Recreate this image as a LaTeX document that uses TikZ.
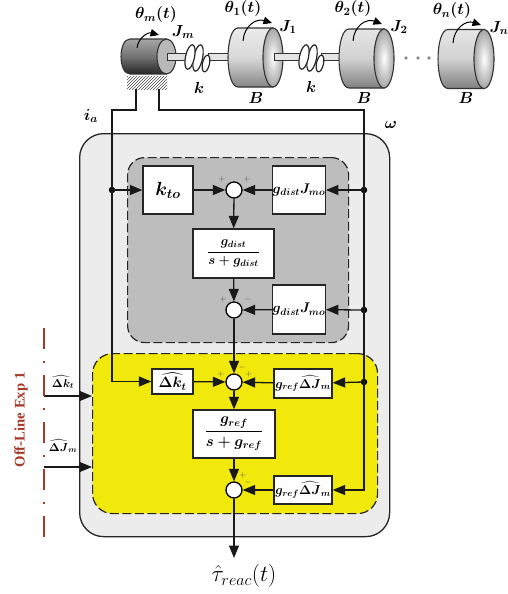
\documentclass[tikz,border=0pt]{standalone}
\usepackage{fix-cm}
\usepackage{amsmath}
\usepackage{fontspec}
\newfontfamily\serifb{Liberation Serif}
\usetikzlibrary{arrows.meta,patterns,calc}
\definecolor{outerc}{HTML}{ECECEC}
\definecolor{grayc}{HTML}{BDBDBD}
\definecolor{yelc}{HTML}{F2E90C}
\definecolor{redc}{HTML}{A63A2A}
\tikzset{
  wire/.style={line width=1.3pt,draw=black!90},
  arr/.style={wire,-{Triangle[length=12.5pt,width=10pt]}},
  blockbox/.style={draw=black!85,line width=1.3pt,fill=white,inner sep=0pt,align=center},
  sumc/.style={circle,draw=black,line width=1.3pt,fill=white,minimum size=16pt,inner sep=0pt},
  jdot/.style={circle,fill=black,minimum size=6.5pt,inner sep=0pt},
  sgn/.style={inner sep=0pt,font=\fontsize{8}{9}\selectfont,text=black!70},
  lab/.style={inner sep=0pt,font=\fontsize{16}{18}\selectfont\boldmath},
  rotarrow/.style={line width=1pt,-{Triangle[length=8.5pt,width=7.5pt]}},
}
% left centre, right centre, y centre, y radius, x radius, bottom, middle, top
\newcommand{\drum}[8]{%
  \shade[top color=#8,bottom color=#6,middle color=#7,draw=black!80,line width=1.1pt]
    (#2,{#3-#4}) -- (#1,{#3-#4})
    .. controls ({#1-1.33*#5},{#3-#4}) and ({#1-1.33*#5},{#3+#4}) .. (#1,{#3+#4})
    -- (#2,{#3+#4}) -- cycle;
}
\newcommand{\coil}[1]{%
  \draw[fill=white,draw=black!85,line width=1.2pt,rotate around={-12:({#1+21},63.5)}] ({#1+21},63.5) ellipse [x radius=3.5,y radius=8.5];
  \draw[fill=white,draw=black!85,line width=1.2pt,rotate around={-12:({#1+13},58)}] ({#1+13},58) ellipse [x radius=4.5,y radius=13.5];
  \draw[fill=white,draw=black!85,line width=1.2pt,rotate around={-12:({#1+5},57)}] ({#1+5},57) ellipse [x radius=4.5,y radius=12.5];
}
\begin{document}
\begin{tikzpicture}[x=1pt,y=-1pt]
\useasboundingbox (0,0) rectangle (508,594);
% containers
\node[draw=black!85,fill=outerc,line width=1.3pt,rounded corners=24pt,minimum width=310pt,minimum height=403pt,anchor=north west,inner sep=0pt] (outerbox) at (79,133) {};
\node[draw=black!85,fill=grayc,line width=1.2pt,dash pattern=on 9pt off 3.5pt,rounded corners=17pt,minimum width=221pt,minimum height=185pt,anchor=north west,inner sep=0pt] (graybox) at (127,157) {};
\node[draw=black!85,fill=yelc,line width=1.2pt,dash pattern=on 9pt off 3.5pt,rounded corners=20pt,minimum width=285pt,minimum height=160pt,anchor=north west,inner sep=0pt] (yellowbox) at (92,353) {};
% mechanical: motor
\node[pattern=north east lines,pattern color=black!70,minimum width=40pt,minimum height=13pt,inner sep=0pt,anchor=north west] (ground) at (127,76) {};
\drum{130}{166.5}{56.5}{17.5}{9}{black!85}{black!55}{black!35}
\draw[fill=black!28,draw=black!80,line width=1.1pt] (166.5,56.5) ellipse [x radius=9.5,y radius=17.5];
\draw[fill=black!12,draw=black!80,line width=.9pt] (167,53.5) rectangle (188,60.5);
% shafts
\draw[fill=black!10,draw=black!80,line width=.9pt] (208,53.5) rectangle (229,60.5);
\draw[fill=black!10,draw=black!80,line width=.9pt] (321,53.5) rectangle (340,60.5);
\coil{185}
% drums
\drum{238}{273}{57.5}{29.5}{10}{black!48}{black!15}{black!8}
\shade[inner color=white,outer color=black!35,draw=black!80,line width=1.1pt] (273,57.5) ellipse [x radius=10,y radius=29.5];
\draw[fill=black!10,draw=black!80,line width=.9pt] (274,53.5) rectangle (301,60.5);
\coil{299}
\drum{349}{384}{58.5}{29.5}{10}{black!50}{black!18}{black!10}
\shade[inner color=white,outer color=black!35,draw=black!80,line width=1.1pt] (384,58.5) ellipse [x radius=10,y radius=29.5];
\drum{448}{484}{59}{29.5}{10}{black!50}{black!18}{black!10}
\shade[inner color=white,outer color=black!35,draw=black!80,line width=1.1pt] (484,59) ellipse [x radius=10,y radius=29.5];
\foreach \x in {406,418,429}{\fill[black!45] (\x,58) circle (1.8);}
% rotation arrows
\draw[rotarrow] (137,48) .. controls (138,38) and (148,32) .. (159,35);
\draw[rotarrow] (243,41) .. controls (244,26) and (256,18) .. (272,23);
\draw[rotarrow] (353,41) .. controls (354,26) and (366,18) .. (382,24);
\draw[rotarrow] (453,43) .. controls (454,28) and (466,20) .. (481,25);
% mechanical labels
\node[lab] (thm) at (156,15) {$\theta_m(t)$};
\node[lab] (th1) at (243,9) {$\theta_1(t)$};
\node[lab] (th2) at (353,9) {$\theta_2(t)$};
\node[lab] (thn) at (452,11) {$\theta_n(t)$};
\node[lab] (jm) at (183,32) {$J_m$};
\node[lab] (j1) at (288,27) {$J_1$};
\node[lab] (j2) at (399,27) {$J_2$};
\node[lab] (jn) at (499,28) {$J_n$};
\node[lab] (k1) at (199,88) {$k$};
\node[lab] (k2) at (311,87) {$k$};
\node[lab] (b1) at (256,98) {$B$};
\node[lab] (b2) at (364,98) {$B$};
\node[lab] (b3) at (466,98) {$B$};
\node[lab] (ia) at (91,116) {$i_a$};
\node[lab] (om) at (391,125) {$\omega$};
% blocks
\node[blockbox,minimum width=50pt,minimum height=48pt,font=\fontsize{19}{21}\selectfont\boldmath] (kto) at (168,190) {$k_{to}$};
\node[sumc] (s1) at (234,190) {};
\node[blockbox,minimum width=50pt,minimum height=48pt,font=\fontsize{14}{16}\selectfont\boldmath] (gj1) at (299,190) {$g_{dist}J_{mo}$};
\node[blockbox,minimum width=81pt,minimum height=49pt,font=\fontsize{13}{15}\selectfont\boldmath] (f1) at (233.5,253.5) {$\dfrac{g_{dist}}{s+g_{dist}}$};
\node[sumc] (s2) at (234,310) {};
\node[blockbox,minimum width=50pt,minimum height=49pt,font=\fontsize{14}{16}\selectfont\boldmath] (gj2) at (299,309.5) {$g_{dist}J_{mo}$};
\node[blockbox,minimum width=41pt,minimum height=25pt,font=\fontsize{15}{17}\selectfont\boldmath] (dk) at (172.5,381.5) {$\widehat{\Delta k_t}$};
\node[sumc] (s3) at (234,382) {};
\node[blockbox,minimum width=58pt,minimum height=29pt,font=\fontsize{13}{15}\selectfont\boldmath] (gr1) at (303,383.5) {$g_{ref}\widehat{\Delta J}_m$};
\node[blockbox,minimum width=82pt,minimum height=48pt,font=\fontsize{15}{17}\selectfont\boldmath] (f2) at (234,434) {$\dfrac{g_{ref}}{s+g_{ref}}$};
\node[sumc] (s4) at (234,490) {};
\node[blockbox,minimum width=58pt,minimum height=28pt,font=\fontsize{13}{15}\selectfont\boldmath] (gr2) at (303,490) {$g_{ref}\widehat{\Delta J}_m$};
% junctions and free ends
\node[jdot] (jl) at (112,190) {};
\node[jdot] (jr1) at (364,190) {};
\node[jdot] (jr2) at (364,310) {};
\node[jdot] (jr3) at (364,382) {};
\coordinate (ml) at (136,89);
\coordinate (mr) at (159,89);
\coordinate (c1) at (136,110);
\coordinate (c2) at (112,110);
\coordinate (c3) at (159,110);
\coordinate (c4) at (364,110);
\coordinate (in1) at (44,396);
\coordinate (in2) at (44,467);
\coordinate (in1e) at (92,396);
\coordinate (in2e) at (92,467);
\coordinate (outp) at (234,558);
\coordinate (r1) at (44,328);
\coordinate (r2) at (44,537);
% connectors
\draw[wire] (ml) -- (c1) -- (c2) -- (jl.center);
\draw[wire] (mr) -- (c3) -- (c4) -- (jr1.center) -- (jr2.center) -- (jr3.center);
\draw[arr] (jl.center) -- (kto);
\draw[arr] (jl.center) |- (dk);
\draw[arr] (kto) -- (s1);
\draw[arr] (gj1) -- (s1);
\draw[arr] (jr1.center) -- (gj1);
\draw[arr] (s1) -- (f1);
\draw[arr] (f1) -- (s2);
\draw[arr] (gj2) -- (s2);
\draw[arr] (jr2.center) -- (gj2);
\draw[arr] (s2) -- (s3);
\draw[arr] (dk) -- (s3);
\draw[arr] (gr1) -- (s3);
\draw[arr] (jr3.center) -- (gr1);
\draw[arr] (s3) -- (f2);
\draw[arr] (f2) -- (s4);
\draw[arr] (gr2) -- (s4);
\draw[arr] (jr3.center) |- (gr2);
\draw[arr] (s4) -- (outp);
\draw[arr] (in1) -- (in1e);
\draw[arr] (in2) -- (in2e);
% signs
\node[sgn] (p1) at (222,179) {$+$};
\node[sgn] (p2) at (247,179) {$+$};
\node[sgn] (p3) at (223,299) {$+$};
\node[sgn] (p4) at (248,299) {$-$};
\node[sgn] (p5) at (221,374) {$+$};
\node[sgn] (p6) at (242,367) {$-$};
\node[sgn] (p7) at (249,374) {$+$};
\node[sgn] (p8) at (243,475) {$+$};
\node[sgn] (p9) at (248,482) {$-$};
% side labels
\node[inner sep=0pt,font=\fontsize{11.5}{13}\selectfont\boldmath] (lk) at (63,382) {$\widehat{\Delta k}_t$};
\node[inner sep=0pt,font=\fontsize{11.5}{13}\selectfont\boldmath] (lj) at (63,446) {$\widehat{\Delta J}_m$};
\draw[redc,line width=2pt,dash pattern=on 21pt off 12pt on 2pt off 12pt] (r1) -- (r2);
\node[rotate=90,inner sep=0pt,text=redc,font=\fontsize{14.7}{16}\selectfont\serifb\bfseries] (exp) at (21,420) {Off-Line Exp 1};
\node[inner sep=0pt,font=\fontsize{23}{26}\selectfont] (tau) at (244,576) {$\hat{\tau}_{reac}(t)$};
\end{tikzpicture}
\end{document}
